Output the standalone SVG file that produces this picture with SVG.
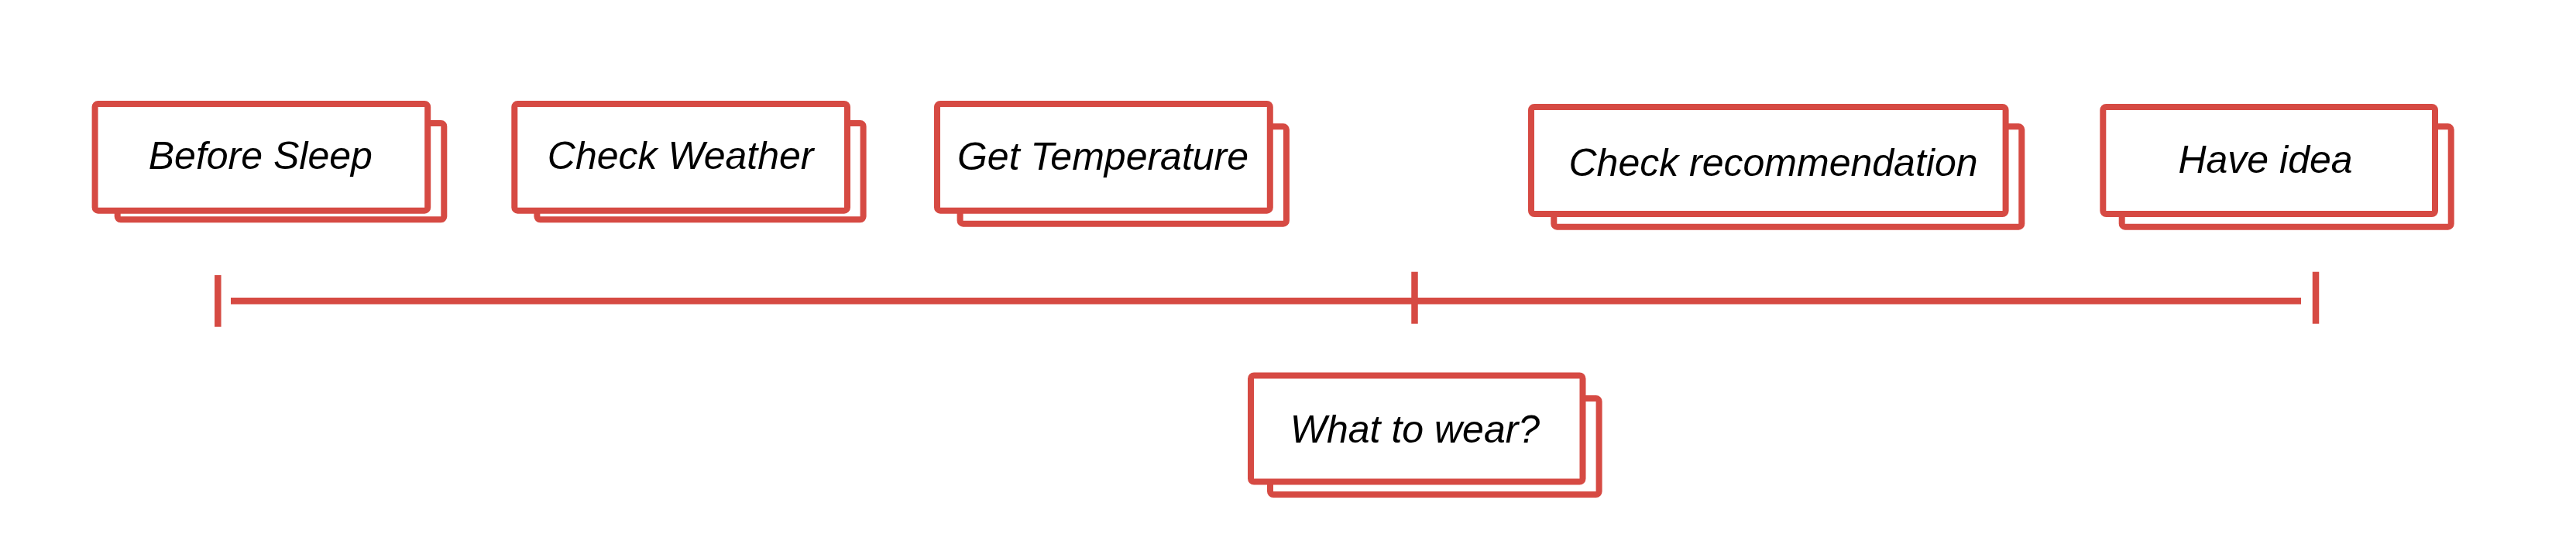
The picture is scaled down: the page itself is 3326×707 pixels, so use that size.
<svg xmlns="http://www.w3.org/2000/svg" width="3326" height="707" viewBox="0 0 3326 707">
<style>
.box{fill:#ffffff;stroke:#d64a43;stroke-width:8}
.lbl{font-family:"Liberation Sans",Arial,sans-serif;font-style:italic;font-size:50px;fill:#000000;text-anchor:middle}
.tl{stroke:#d64a43;stroke-width:8.5;fill:none}
</style>
<rect width="3326" height="707" fill="#ffffff"/>
<g id="connectors">
<line class="tl" x1="298" y1="388.3" x2="2971" y2="388.3"/>
<line class="tl" x1="281.3" y1="355" x2="281.3" y2="421.7"/>
<line class="tl" x1="1826.5" y1="350.7" x2="1826.5" y2="417.7"/>
<line class="tl" x1="2990" y1="350.7" x2="2990" y2="417.7"/>
</g>
<g id="before-sleep">
<rect class="box" x="151.7" y="159" width="421.6" height="124.3" rx="4"/>
<rect class="box" x="122.6" y="134" width="429.6" height="137.7" rx="4"/>
<text class="lbl" x="336.3" y="218.3">Before Sleep</text>
</g>
<g id="check-weather">
<rect class="box" x="693.4" y="159" width="421.2" height="124.3" rx="4"/>
<rect class="box" x="664.3" y="134" width="429.7" height="137.7" rx="4"/>
<text class="lbl" x="878.7" y="218.3">Check Weather</text>
</g>
<g id="get-temperature">
<rect class="box" x="1239.6" y="163.3" width="421.3" height="125.4" rx="4"/>
<rect class="box" x="1210" y="134" width="429.8" height="137.7" rx="4"/>
<text class="lbl" x="1424" y="219">Get Temperature</text>
</g>
<g id="check-recommendation">
<rect class="box" x="2006.3" y="163.3" width="604" height="129.4" rx="4"/>
<rect class="box" x="1977" y="138" width="612.6" height="138" rx="4"/>
<text class="lbl" x="2289.5" y="226.7">Check recommendation</text>
</g>
<g id="have-idea">
<rect class="box" x="2739.7" y="163.3" width="425" height="129.4" rx="4"/>
<rect class="box" x="2715.3" y="138" width="428.7" height="138" rx="4"/>
<text class="lbl" x="2925" y="223.3">Have idea</text>
</g>
<g id="what-to-wear">
<rect class="box" x="1640" y="514" width="424.6" height="124" rx="4"/>
<rect class="box" x="1615" y="484.5" width="428.5" height="137" rx="4"/>
<text class="lbl" x="1827" y="571">What to wear?</text>
</g>
</svg>
